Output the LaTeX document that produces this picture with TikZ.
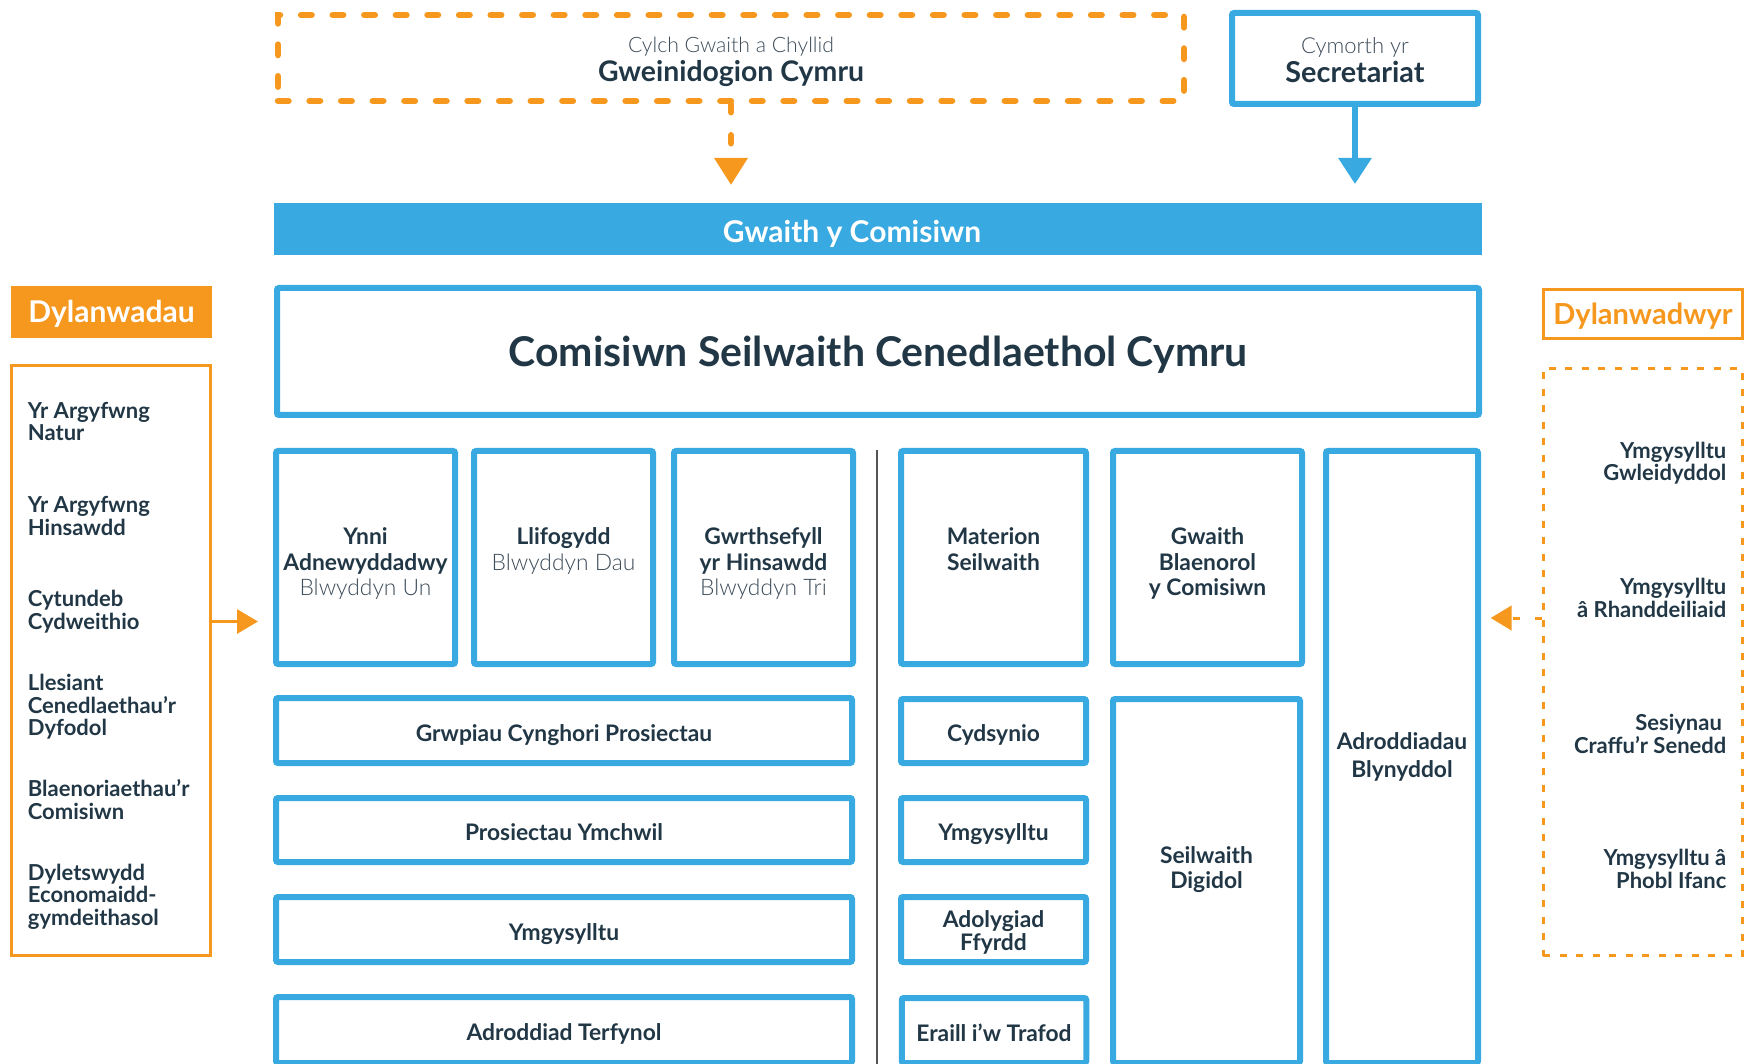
\documentclass[tikz,border=0pt]{standalone}
\usepackage{fontspec}
\setmainfont{Lato}
\IfFontExistsTF{Lato Light}{\newfontfamily\lightf{Lato Light}}{\newfontfamily\lightf{Lato}}
\usetikzlibrary{arrows.meta}
\definecolor{cblue}{HTML}{38AAE1}
\definecolor{corange}{HTML}{F6971E}
\definecolor{cdark}{HTML}{213746}
\definecolor{clight}{HTML}{3E4D5A}
\definecolor{cdiv}{HTML}{555555}
\newcommand\bxf{\bfseries\fontsize{11.4}{12.75}\selectfont}
\newcommand\sdf{\bfseries\fontsize{11}{11.25}\selectfont}
\newcommand\lt[1]{{\lightf\mdseries\color{clight}#1}}
\tikzset{
  bbox/.style={draw=cblue, line width=3pt, rounded corners=1pt, fill=white, inner sep=0pt, text=cdark, font=\bxf, align=center},
  oneline/.style={text height=10.5pt, text depth=0pt},
  btxt/.style={inner sep=0pt, text=cdark, font=\bxf, align=center},
  gwbox/.style={draw=corange, line width=3.25pt, dash pattern=on 5.25pt off 10.55pt, line cap=round, inner sep=0pt, text=cdark, align=center, font=\fontsize{10.6}{14.5}\selectfont, minimum width=453pt, minimum height=43pt},
  barbox/.style={fill=cblue, inner sep=0pt, minimum width=604pt, minimum height=26pt},
  bartxt/.style={inner sep=0pt, text=white, font=\bfseries\fontsize{15}{18}\selectfont, text height=13.15pt, text depth=0pt},
  ofill/.style={fill=corange, inner sep=0pt, text=white, font=\bfseries\fontsize{15}{18}\selectfont, text height=10.75pt, text depth=0pt},
  oline/.style={draw=corange, line width=1.5pt, inner sep=0pt},
  stxt/.style={inner sep=0pt, text=cdark, font=\sdf},
  barrow/.style={draw=cblue, line width=3pt, -{Triangle[length=13pt,width=16pt]}},
  oarrow/.style={draw=corange, line width=3.25pt, dash pattern=on 4pt off 11.5pt, line cap=round, -{Triangle[length=13.5pt,width=16pt]}},
  larrow/.style={draw=corange, line width=1.5pt, -{Triangle[length=10.5pt,width=12pt]}},
  rarrow/.style={draw=corange, line width=1.5pt, dash pattern=on 3.5pt off 7.5pt, -{Triangle[length=10.5pt,width=12.25pt]}},
  divline/.style={draw=cdiv, line width=1pt},
}
\begin{document}
\begin{tikzpicture}[x=0.5pt,y=-0.5pt]
\useasboundingbox (0,0) rectangle (1753,1064);
\clip (0,0) rectangle (1753,1064);
\draw[divline] (876.6,450) -- (876.6,1070);
% top
\node[gwbox] (gw) at (731,58) {\rule{0pt}{12pt}\lt{Cylch Gwaith a Chyllid}\\{\bfseries\fontsize{14.2}{14.5}\selectfont Gweinidogion Cymru}};
\node[bbox, minimum width=123pt, minimum height=45.5pt, font=\fontsize{11}{14.2}\selectfont] (sec) at (1355,58.5) {\rule{0pt}{9.5pt}\lt{Cymorth yr}\\{\bfseries\fontsize{14.4}{14.2}\selectfont Secretariat}};
\node[barbox] (bar) at (878,229) {};
\node[bartxt] (bart) at ([xshift=-13pt]bar.center) {Gwaith y Comisiwn};
\draw[barrow, shorten >=9.3pt] (sec.south) -- (sec.south |- bar.north);
\draw[oarrow, shorten >=8.8pt] (gw.south) -- (gw.south |- bar.north);
\node[bbox, minimum width=601pt, minimum height=63.5pt, font=\bfseries\fontsize{20.5}{24}\selectfont, text height=15pt, text depth=0pt] (csc) at (878,351.5) {Comisiwn Seilwaith Cenedlaethol Cymru};
% row of boxes
\node[bbox, minimum width=89.5pt, minimum height=106.5pt] (b1) at (365.5,557.5) {};
\node[bbox, minimum width=89.5pt, minimum height=106.5pt] (b2) at (563.5,557.5) {};
\node[bbox, minimum width=89.5pt, minimum height=106.5pt] (b3) at (763.5,557.5) {};
\node[bbox, minimum width=92.5pt, minimum height=106.5pt] (b4) at (993.5,557.5) {};
\node[bbox, minimum width=94.5pt, minimum height=106.5pt] (b5) at (1207.5,557.5) {};
\node[bbox, minimum width=76pt, minimum height=306pt] (b6) at (1402,757) {Adroddiadau\\[1pt]Blynyddol};
\node[btxt, anchor=north] (t1) at ([yshift=-39.7pt]b1.north) {Ynni\\Adnewyddadwy\\\lt{Blwyddyn Un}};
\node[btxt, anchor=north] (t2) at ([yshift=-39.7pt]b2.north) {Llifogydd\\\lt{Blwyddyn Dau}};
\node[btxt, anchor=north] (t3) at ([yshift=-39.7pt]b3.north) {Gwrthsefyll\\yr Hinsawdd\\\lt{Blwyddyn Tri}};
\node[btxt, anchor=north] (t4) at ([yshift=-39.7pt]b4.north) {Materion\\Seilwaith};
\node[btxt, anchor=north] (t5) at ([yshift=-39.7pt]b5.north) {Gwaith\\Blaenorol\\y Comisiwn};
% lower boxes
\node[bbox, oneline, minimum width=288pt, minimum height=32.5pt] (g1) at (564,730.5) {Grwpiau Cynghori Prosiectau};
\node[bbox, oneline, minimum width=288pt, minimum height=32pt] (g2) at (564,830) {Prosiectau Ymchwil};
\node[bbox, oneline, minimum width=288pt, minimum height=32.5pt] (g3) at (564,929.5) {Ymgysylltu};
\node[bbox, oneline, minimum width=288pt, minimum height=33pt] (g4) at (564,1030) {Adroddiad Terfynol};
\node[bbox, oneline, minimum width=92.5pt, minimum height=32pt] (s1) at (993.5,731) {Cydsynio};
\node[bbox, oneline, minimum width=92.5pt, minimum height=32pt] (s2) at (993.5,830) {Ymgysylltu};
\node[bbox, minimum width=92.5pt, minimum height=32.5pt] (s3) at (993.5,929.5) {\rule{0pt}{11.7pt}Adolygiad\\[-1.25pt]Ffyrdd};
\node[bbox, oneline, minimum width=92.25pt, minimum height=32.5pt] (s4) at (994,1030.5) {Eraill i’w Trafod};
\node[bbox, minimum width=93.5pt, minimum height=182pt] (sd) at (1206.5,881) {};
\node[btxt] (sdt) at ([yshift=5.5pt]sd.center) {Seilwaith\\[-0.25pt]Digidol};
% left column
\node[ofill, minimum width=100.5pt, minimum height=26pt] (dlw) at (111.5,312) {Dylanwadau};
\node[oline, minimum width=99.5pt, minimum height=295pt] (infl) at (111,660.5) {};
\node[stxt, anchor=north west, align=left] (l1) at (27.5,401.5) {Yr Argyfwng\\Natur};
\node[stxt, anchor=north west, align=left] (l2) at (27.5,496) {Yr Argyfwng\\Hinsawdd};
\node[stxt, anchor=north west, align=left] (l3) at (27.5,590) {Cytundeb\\Cydweithio};
\node[stxt, anchor=north west, align=left] (l4) at (27.5,674) {Llesiant\\Cenedlaethau’r\\Dyfodol};
\node[stxt, anchor=north west, align=left] (l5) at (27.5,779.6) {Blaenoriaethau’r\\Comisiwn};
\node[stxt, anchor=north west, align=left] (l6) at (27.5,863.5) {Dyletswydd\\Economaidd-\\gymdeithasol};
\coordinate (la) at (0,621.5);
\draw[larrow, shorten >=7.5pt] (infl.east |- la) -- (b1.west |- la);
% right column
\node[oline, minimum width=99.8pt, minimum height=24.5pt, text=corange, font=\bfseries\fontsize{14.5}{18}\selectfont, text height=10.4pt, text depth=0pt] (dlwr) at (1643,314) {Dylanwadwyr};
\node[oline, dash pattern=on 3.5pt off 4.75pt, minimum width=99.8pt, minimum height=293.5pt] (infw) at (1643,662) {};
\node[stxt, anchor=north east, align=right] (r1) at (1726.7,441.6) {Ymgysylltu\\Gwleidyddol};
\node[stxt, anchor=north east, align=right] (r2) at (1726.7,577.8) {Ymgysylltu\\â Rhanddeiliaid};
\node[stxt, anchor=north east, align=right] (r3) at (1726.7,714) {Sesiynau\kern2.2pt\\Craffu’r Senedd};
\node[stxt, anchor=north east, align=right] (r4) at (1726.7,849) {Ymgysylltu â\\Phobl Ifanc};
\coordinate (ra) at (0,618);
\draw[rarrow, shorten >=4.85pt] (infw.west |- ra) -- (b6.east |- ra);
\end{tikzpicture}
\end{document}
